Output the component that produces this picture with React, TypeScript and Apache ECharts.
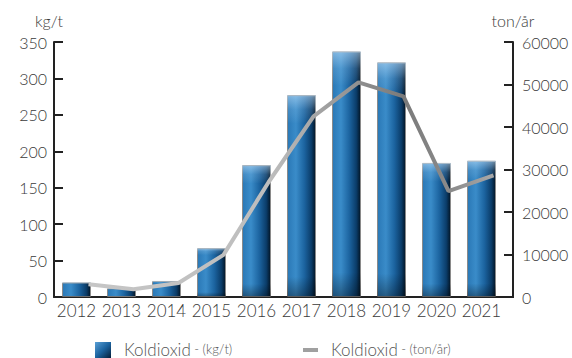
import React, { useEffect, useRef } from "react";
import * as echarts from "echarts";

const years = ["2012", "2013", "2014", "2015", "2016", "2017", "2018", "2019", "2020", "2021"];
const kgPerTon = [20, 12, 22, 67, 181, 277, 337, 322, 184, 187];
const tonPerYear = [3000, 1800, 3300, 9900, 27000, 42500, 50500, 47200, 24900, 28600];
const leftTicks = { min: 0, max: 350, interval: 50 };
const rightTicks = { min: 0, max: 60000, interval: 10000 };
const legendNames = ["Koldioxid", "Koldioxid"];
const legendUnits = [" - (kg/t)", " - (ton/år)"];

const FONT = "Lato, 'Open Sans', sans-serif";
const TXT = "#3a3a3a";
const AX = "#222";

export default function App() {
  const ref = useRef<HTMLDivElement>(null);
  useEffect(() => {
    if (!ref.current) return;
    const chart = echarts.init(ref.current, undefined, { renderer: "svg" });
    const barFill = new echarts.graphic.LinearGradient(0, 0, 1, 0, [
      { offset: 0, color: "#2a78b6" },
      { offset: 0.3, color: "#3a8cc9" },
      { offset: 0.6, color: "#1c64a0" },
      { offset: 0.85, color: "#0b3d6a" },
      { offset: 1, color: "#021526" },
    ]);
    const overlay = new echarts.graphic.LinearGradient(0, 0, 0, 1, [
      { offset: 0, color: "rgba(200,230,255,0.55)" },
      { offset: 0.07, color: "rgba(200,230,255,0.15)" },
      { offset: 0.14, color: "rgba(255,255,255,0)" },
      { offset: 0.9, color: "rgba(0,0,0,0)" },
      { offset: 1, color: "rgba(0,0,0,0.35)" },
    ]);
    const lineColor = new echarts.graphic.LinearGradient(0, 0, 1, 0, [
      { offset: 0, color: "#c6c6c6" },
      { offset: 0.45, color: "#bdbdbd" },
      { offset: 0.62, color: "#999" },
      { offset: 0.78, color: "#7a7a7a" },
      { offset: 0.9, color: "#8c8c8c" },
      { offset: 1, color: "#a8a8a8" },
    ]);
    const axisLabel = { color: TXT, fontFamily: FONT, fontSize: 16, fontWeight: 300 };
    chart.setOption({
      animation: false,
      grid: [
        { left: 54, width: 450, top: 42, bottom: 61 },
        { left: 66, width: 450, top: 42, bottom: 61 },
      ],
      xAxis: [
        {
          type: "category",
          gridIndex: 0,
          data: years,
          axisLine: { lineStyle: { color: AX, width: 2 } },
          axisTick: { inside: true, length: 6, lineStyle: { color: AX, width: 2 } },
          axisLabel: { color: TXT, fontFamily: FONT, fontSize: 17, fontWeight: 300, margin: 5, interval: 0 },
        },
        { type: "category", gridIndex: 1, data: years, show: false },
      ],
      yAxis: [
        {
          type: "value",
          gridIndex: 0,
          position: "left",
          ...leftTicks,
          name: "kg/t",
          nameGap: 14,
          nameTextStyle: { color: TXT, fontFamily: FONT, fontSize: 16, fontWeight: 300, align: "center", padding: [0, 0, 0, -10] },
          axisLine: { show: true, lineStyle: { color: AX, width: 2 } },
          axisTick: { show: true, inside: true, length: 9, lineStyle: { color: AX, width: 2 } },
          axisLabel: { ...axisLabel, margin: 7 },
          splitLine: { show: false },
        },
        {
          type: "value",
          gridIndex: 0,
          position: "right",
          offset: 9,
          ...rightTicks,
          name: "ton/år",
          nameGap: 14,
          nameTextStyle: { color: TXT, fontFamily: FONT, fontSize: 16, fontWeight: 300, align: "center" },
          axisLine: { show: true, lineStyle: { color: AX, width: 2 } },
          axisTick: { show: true, inside: true, length: 9, lineStyle: { color: AX, width: 2 } },
          axisLabel: { ...axisLabel, margin: 9, formatter: (v: number) => String(v) },
          splitLine: { show: false },
        },
        { type: "value", gridIndex: 1, ...rightTicks, show: false },
      ],
      series: [
        {
          type: "bar",
          xAxisIndex: 0,
          yAxisIndex: 0,
          data: kgPerTon,
          barWidth: 29,
          itemStyle: { color: barFill, borderColor: "#8a8a8a", borderWidth: 1 },
        },
        {
          type: "bar",
          xAxisIndex: 0,
          yAxisIndex: 0,
          data: kgPerTon,
          barWidth: 29,
          barGap: "-100%",
          silent: true,
          itemStyle: { color: overlay },
        },
        {
          type: "line",
          xAxisIndex: 1,
          yAxisIndex: 2,
          data: tonPerYear,
          symbol: "none",
          lineStyle: { color: lineColor, width: 4 },
          z: 5,
        },
      ],
      graphic: [
        { type: "line", shape: { x1: 503, y1: 297, x2: 514, y2: 297 }, style: { stroke: AX, lineWidth: 2 } },
        {
          type: "rect",
          shape: { x: 95, y: 342, width: 16, height: 16 },
          style: {
            fill: new echarts.graphic.LinearGradient(0, 0, 1, 1, [
              { offset: 0, color: "#5aa0d6" },
              { offset: 0.5, color: "#1c64a0" },
              { offset: 1, color: "#041e38" },
            ]),
          },
        },
        {
          type: "text",
          x: 124,
          y: 349,
          style: {
            text: `{a|${legendNames[0]}}{b|${legendUnits[0]}}`,
            verticalAlign: "middle",
            rich: {
              a: { fontFamily: FONT, fontSize: 17, fontWeight: 300, fill: "#555" },
              b: { fontFamily: FONT, fontSize: 13, fontWeight: 300, fill: "#555" },
            },
          },
        },
        { type: "rect", shape: { x: 303, y: 348, width: 15, height: 4 }, style: { fill: "#a0a0a0" } },
        {
          type: "text",
          x: 331,
          y: 349,
          style: {
            text: `{a|${legendNames[1]}}{b|${legendUnits[1]}}`,
            verticalAlign: "middle",
            rich: {
              a: { fontFamily: FONT, fontSize: 17, fontWeight: 300, fill: "#555" },
              b: { fontFamily: FONT, fontSize: 13, fontWeight: 300, fill: "#555" },
            },
          },
        },
      ],
    });
    return () => chart.dispose();
  }, []);
  return <div ref={ref} style={{ width: 572, height: 358, position: "absolute", left: 0, top: 0 }} />;
}
